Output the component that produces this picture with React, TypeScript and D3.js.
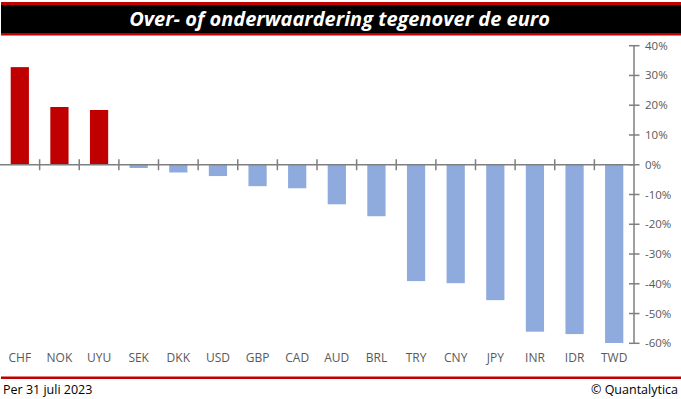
import React, { useEffect, useRef } from 'react';
import * as d3 from 'd3';

// valuation vs euro, in percent
const currencies = ["CHF", "NOK", "UYU", "SEK", "DKK", "USD", "GBP", "CAD", "AUD", "BRL", "TRY", "CNY", "JPY", "INR", "IDR", "TWD"];
const valuation = [32.8, 19.4, 18.4, -1.1, -2.6, -3.8, -7.2, -7.9, -13.3, -17.3, -39.1, -39.8, -45.5, -56.1, -56.9, -59.9];
const yTicks = [40, 30, 20, 10, 0, -10, -20, -30, -40, -50, -60];

const title = "Over- of onderwaardering tegenover de euro";
const footLeft = "Per 31 juli 2023";
const footRight = "© Quantalytica";

const W = 681, H = 399;
const FONT = "'Open Sans', 'Noto Sans', sans-serif";

function BarChart() {
    const ref = useRef<SVGSVGElement>(null);

    useEffect(() => {
        const svg = d3.select(ref.current);
        svg.selectAll("*").remove();

        // title bar
        svg.append("rect").attr("x", 1).attr("y", 2).attr("width", W - 1).attr("height", 33.5).attr("fill", "#C00000");
        svg.append("rect").attr("x", 1).attr("y", 5).attr("width", W - 1).attr("height", 28).attr("fill", "#000");
        svg.append("text")
            .attr("x", W / 2 - 1).attr("y", 26)
            .attr("text-anchor", "middle")
            .attr("fill", "#fff")
            .style("font-family", FONT)
            .style("font-size", "20px")
            .style("font-weight", "bold")
            .style("font-style", "italic")
            .text(title);

        const axisX = 634;
        const x = d3.scaleBand<string>().domain(currencies).range([0, axisX]);
        const y = d3.scaleLinear().domain([-60, 40]).range([343.3, 45.7]);

        const bw = x.bandwidth() * 0.46;
        svg.append("g").selectAll("rect")
            .data(currencies)
            .enter()
            .append("rect")
            .attr("x", (d) => (x(d) as number) + (x.bandwidth() - bw) / 2)
            .attr("y", (d, i) => y(Math.max(0, valuation[i])))
            .attr("width", bw)
            .attr("height", (d, i) => Math.abs(y(valuation[i]) - y(0)))
            .attr("fill", (d, i) => valuation[i] >= 0 ? "#C00000" : "#8FAADC");

        const grey = "#7F7F7F";
        // zero line with category ticks
        svg.append("line")
            .attr("x1", 0).attr("x2", axisX)
            .attr("y1", y(0)).attr("y2", y(0))
            .attr("stroke", grey).attr("stroke-width", 1.5);
        svg.append("g").selectAll("line")
            .data(currencies.slice(1))
            .enter()
            .append("line")
            .attr("x1", (d) => x(d) as number).attr("x2", (d) => x(d) as number)
            .attr("y1", y(0) - 5.5).attr("y2", y(0) + 5.5)
            .attr("stroke", grey).attr("stroke-width", 1.5);

        // y axis on the right
        svg.append("line")
            .attr("x1", axisX).attr("x2", axisX)
            .attr("y1", y(40)).attr("y2", y(-60))
            .attr("stroke", grey).attr("stroke-width", 1.5);
        svg.append("g").selectAll("line")
            .data(yTicks)
            .enter()
            .append("line")
            .attr("x1", axisX - 5).attr("x2", axisX + 5.5)
            .attr("y1", (d) => y(d)).attr("y2", (d) => y(d))
            .attr("stroke", grey).attr("stroke-width", 1.5);
        svg.append("g").selectAll("text")
            .data(yTicks)
            .enter()
            .append("text")
            .attr("x", 645).attr("y", (d) => y(d) + 4)
            .attr("fill", "#595959")
            .style("font-family", FONT)
            .style("font-size", "11.5px")
            .text((d) => d + "%");

        // category labels
        svg.append("g").selectAll("text")
            .data(currencies)
            .enter()
            .append("text")
            .attr("x", (d) => (x(d) as number) + x.bandwidth() / 2)
            .attr("y", 362)
            .attr("text-anchor", "middle")
            .attr("fill", "#595959")
            .style("font-family", FONT)
            .style("font-size", "12px")
            .text((d) => d);

        // footer
        svg.append("rect").attr("x", 1).attr("y", 376.5).attr("width", W - 1).attr("height", 2.5).attr("fill", "#C00000");
        svg.append("text")
            .attr("x", 3).attr("y", 394)
            .attr("fill", "#000")
            .style("font-family", FONT)
            .style("font-size", "12.5px")
            .text(footLeft);
        svg.append("text")
            .attr("x", 678).attr("y", 394)
            .attr("text-anchor", "end")
            .attr("fill", "#000")
            .style("font-family", FONT)
            .style("font-size", "12.5px")
            .text(footRight);
    }, []);

    return <svg ref={ref} width={W} height={H} style={{ position: "absolute", left: 0, top: 0, background: "#fff" }} />;
}

export default function App() {
    return <BarChart />;
}
